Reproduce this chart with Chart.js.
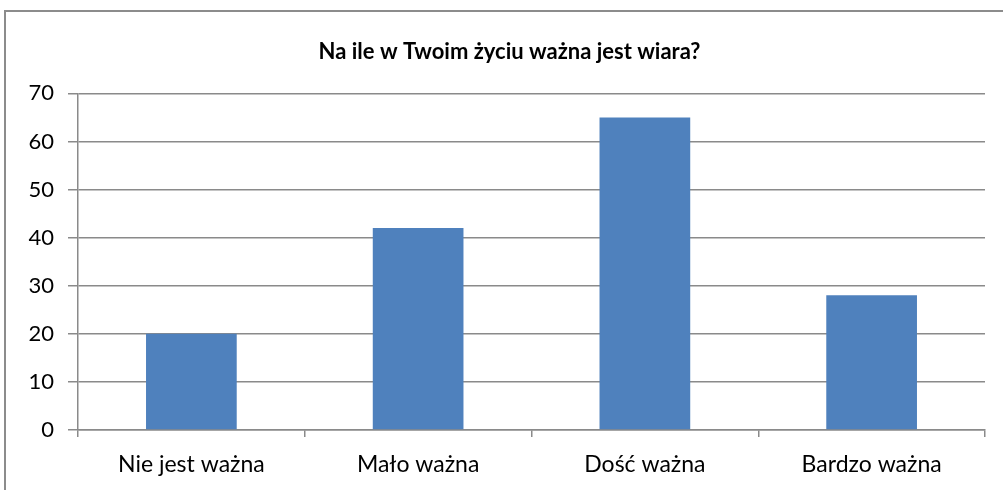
<!DOCTYPE html>
<html>
<head>
<meta charset="utf-8">
<script src="https://cdn.jsdelivr.net/npm/chart.js@4/dist/chart.umd.min.js"></script>
<style>
html, body { margin: 0; padding: 0; background: #fff; overflow: hidden; }
#wrap { position: relative; width: 1003px; height: 490px; }
#ramka { position: absolute; left: 4px; top: 10px; width: 1020px; height: 520px; border: 2px solid #8c8c8c; }
canvas { position: absolute; left: 0; top: 0; }
</style>
</head>
<body>
<div id="wrap">
    <div id="ramka"></div>
    <canvas id="wykres" width="1003" height="490"></canvas>
</div>
<script>
var tytul = "Na ile w Twoim życiu ważna jest wiara?";
var kategorie = ["Nie jest ważna", "Mało ważna", "Dość ważna", "Bardzo ważna"];
var wartosci = [20, 42, 65, 28];
var osY = [0, 10, 20, 30, 40, 50, 60, 70];

var szary = "#8a8a8a";
var ctx = document.getElementById("wykres");

var myBarChart = new Chart(ctx, {
    type: 'bar',
    data: {
        labels: kategorie,
        datasets: [{
            label: 'odpowiedzi',
            data: wartosci,
            backgroundColor: '#4f81bd',
            borderWidth: 0,
            categoryPercentage: 1.0,
            barPercentage: 0.4
        }]
    },
    options: {
        responsive: false,
        animation: false,
        layout: {
            // ujemny prawy margines przesuwa srodek tytulu w prawo
            padding: { left: 0, right: -16, top: 0, bottom: 0 }
        },
        plugins: {
            legend: { display: false },
            tooltip: { enabled: false },
            title: {
                display: true,
                text: tytul,
                color: '#000',
                font: { family: 'Lato', size: 22, weight: 'bold' },
                padding: { top: 39, bottom: 28 }
            }
        },
        scales: {
            x: {
                afterFit: function (axis) {
                    // dolny pas z podpisami: 60 px
                    axis.height = 60;
                    axis.paddingBottom = 0;
                    axis.paddingLeft = 0;
                    axis.paddingRight = 0;
                },
                grid: {
                    display: true,
                    drawOnChartArea: false,
                    drawTicks: true,
                    tickLength: 7,
                    color: szary,
                    lineWidth: 1.5
                },
                border: { display: true, color: szary, width: 1.5 },
                ticks: {
                    color: '#000',
                    font: { family: 'Lato', size: 23 },
                    padding: 14
                }
            },
            y: {
                min: osY[0],
                max: osY[osY.length - 1],
                afterBuildTicks: function (axis) {
                    axis.ticks = osY.map(function (v) { return { value: v }; });
                },
                afterFit: function (axis) {
                    // os Y konczy sie na x = 78
                    axis.width = 78;
                    axis.paddingTop = 0;
                    axis.paddingBottom = 0;
                },
                grid: {
                    color: szary,
                    lineWidth: 1.5,
                    tickLength: 10
                },
                border: { display: true, color: szary, width: 1.5 },
                ticks: {
                    color: '#000',
                    font: { family: 'Lato', size: 22 },
                    padding: 14
                }
            },
            odstep: {
                // pusta os po prawej, tylko zajmuje miejsce
                type: 'linear',
                position: 'right',
                grid: { display: false },
                border: { display: false },
                ticks: { display: false },
                afterFit: function (axis) {
                    axis.width = 34;
                    axis.paddingTop = 0;
                    axis.paddingBottom = 0;
                }
            }
        }
    }
});
</script>
</body>
</html>
